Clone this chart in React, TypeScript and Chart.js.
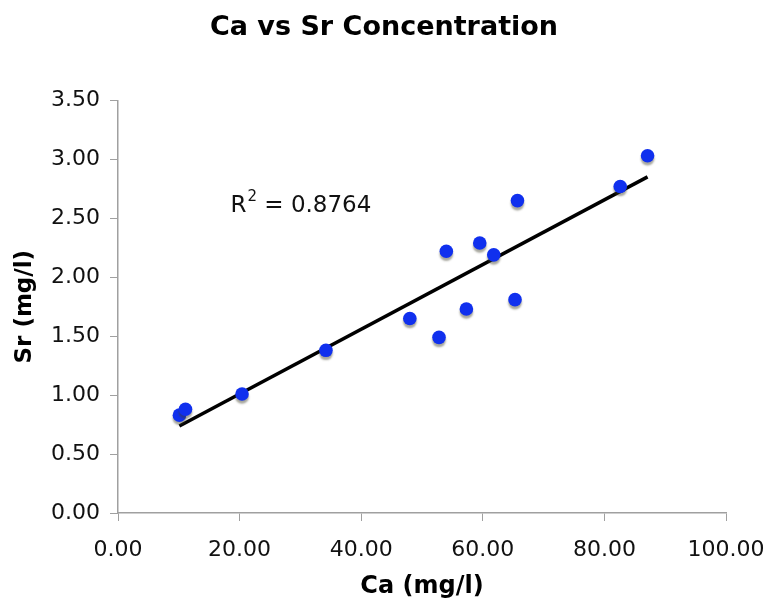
import React, { useEffect, useRef } from "react";
import { Chart, registerables } from "chart.js";

Chart.register(...registerables);

const caValues = [10.1, 11.1, 20.4, 34.2, 48.0, 52.8, 54.0, 57.3, 59.5, 61.8, 65.3, 65.7, 82.6, 87.1];
const srValues = [0.83, 0.88, 1.01, 1.38, 1.65, 1.49, 2.22, 1.73, 2.29, 2.19, 1.81, 2.65, 2.77, 3.03];
const titleText = "Ca vs Sr Concentration";
const xTitle = "Ca (mg/l)";
const yTitle = "Sr (mg/l)";
const r2Value = "0.8764";
const r2LabelPos = { x: 18.5, y: 2.6 };

function regression(xs: number[], ys: number[]) {
  const n = xs.length;
  const mx = xs.reduce((a, b) => a + b, 0) / n;
  const my = ys.reduce((a, b) => a + b, 0) / n;
  let sxy = 0, sxx = 0;
  for (let i = 0; i < n; i++) {
    sxy += (xs[i] - mx) * (ys[i] - my);
    sxx += (xs[i] - mx) * (xs[i] - mx);
  }
  const slope = sxy / sxx;
  return { slope, intercept: my - slope * mx };
}

export default function App() {
  const ref = useRef<HTMLCanvasElement | null>(null);
  useEffect(() => {
    if (!ref.current) return;
    const { slope, intercept } = regression(caValues, srValues);
    const minX = Math.min(...caValues);
    const maxX = Math.max(...caValues);
    const trend = [
      { x: minX, y: intercept + slope * minX },
      { x: maxX, y: intercept + slope * maxX },
    ];
    const shadowPlugin = {
      id: "shadow",
      beforeDatasetDraw(chart: any, args: any) {
        if (args.index === 0) {
          const ctx = chart.ctx;
          ctx.save();
          ctx.shadowColor = "rgba(60,60,40,0.45)";
          ctx.shadowOffsetY = 3;
          ctx.shadowOffsetX = 0;
          ctx.shadowBlur = 2;
        }
      },
      afterDatasetDraw(chart: any, args: any) {
        if (args.index === 0) chart.ctx.restore();
      },
    };
    const r2Plugin = {
      id: "r2",
      afterDraw(chart: any) {
        const ctx = chart.ctx;
        const xs = chart.scales.x;
        const ys = chart.scales.y;
        const px = xs.getPixelForValue(r2LabelPos.x);
        const py = ys.getPixelForValue(r2LabelPos.y);
        ctx.save();
        ctx.fillStyle = "#111";
        ctx.textBaseline = "middle";
        ctx.textAlign = "left";
        ctx.font = "23px 'DejaVu Sans'";
        ctx.fillText("R", px, py);
        let w = ctx.measureText("R").width;
        ctx.font = "15px 'DejaVu Sans'";
        ctx.fillText("2", px + w + 1, py - 9);
        w += ctx.measureText("2").width + 1;
        ctx.font = "23px 'DejaVu Sans'";
        ctx.fillText(" = " + r2Value, px + w, py);
        ctx.restore();
      },
    };
    const chart = new Chart(ref.current, {
      type: "scatter",
      data: {
        datasets: [
          {
            type: "scatter",
            data: caValues.map((x, i) => ({ x, y: srValues[i] })),
            backgroundColor: "#1030ee",
            borderColor: "#1030ee",
            borderWidth: 0,
            pointRadius: 6.8,
          },
          {
            type: "line",
            data: trend,
            borderColor: "#000",
            borderWidth: 3.5,
            pointRadius: 0,
            fill: false,
          } as any,
        ],
      },
      options: {
        animation: false,
        responsive: true,
        maintainAspectRatio: false,
        layout: { padding: { left: 0, right: 0, top: 0, bottom: 0 } },
        plugins: {
          legend: { display: false },
          tooltip: { enabled: false },
          title: {
            display: true,
            text: titleText,
            color: "#000",
            font: { family: "'DejaVu Sans'", size: 27, weight: "bold" },
            padding: { top: 12, bottom: 56 },
          },
        },
        scales: {
          x: {
            type: "linear",
            min: 0,
            max: 100,
            ticks: {
              stepSize: 20,
              color: "#111",
              padding: 16,
              maxRotation: 0,
              font: { family: "'DejaVu Sans'", size: 22 },
              callback: (v: any) => Number(v).toFixed(2),
            },
            grid: { display: true, drawOnChartArea: false, drawTicks: true, tickLength: 8, color: "#a0a0a0" },
            border: { display: true, color: "#a0a0a0", width: 1.5 },
            title: {
              display: true,
              text: xTitle,
              color: "#000",
              font: { family: "'DejaVu Sans'", size: 24, weight: "bold", lineHeight: 1.1 },
              padding: { top: 0, bottom: 0 },
            },
            afterFit: (s: any) => { s.height = 87; s.paddingLeft = 0; s.paddingRight = 42; },
          },
          y: {
            type: "linear",
            min: 0,
            max: 3.5,
            ticks: {
              stepSize: 0.5,
              color: "#111",
              padding: 10,
              font: { family: "'DejaVu Sans'", size: 22 },
              callback: (v: any) => Number(v).toFixed(2),
            },
            grid: { display: true, drawOnChartArea: false, drawTicks: true, tickLength: 8, color: "#a0a0a0" },
            border: { display: true, color: "#a0a0a0", width: 1.5 },
            title: {
              display: true,
              text: yTitle,
              color: "#000",
              font: { family: "'DejaVu Sans'", size: 23, weight: "bold" },
              padding: { top: 11, bottom: 0 },
            },
            afterFit: (s: any) => { s.width = 118; s.paddingTop = 0; s.paddingBottom = 0; },
          },
        },
      },
      plugins: [shadowPlugin, r2Plugin],
    } as any);
    return () => chart.destroy();
  }, []);
  return (
    <div style={{ position: "fixed", left: 0, top: 0, width: 768, height: 600, background: "#fff" }}>
      <canvas ref={ref} />
    </div>
  );
}
